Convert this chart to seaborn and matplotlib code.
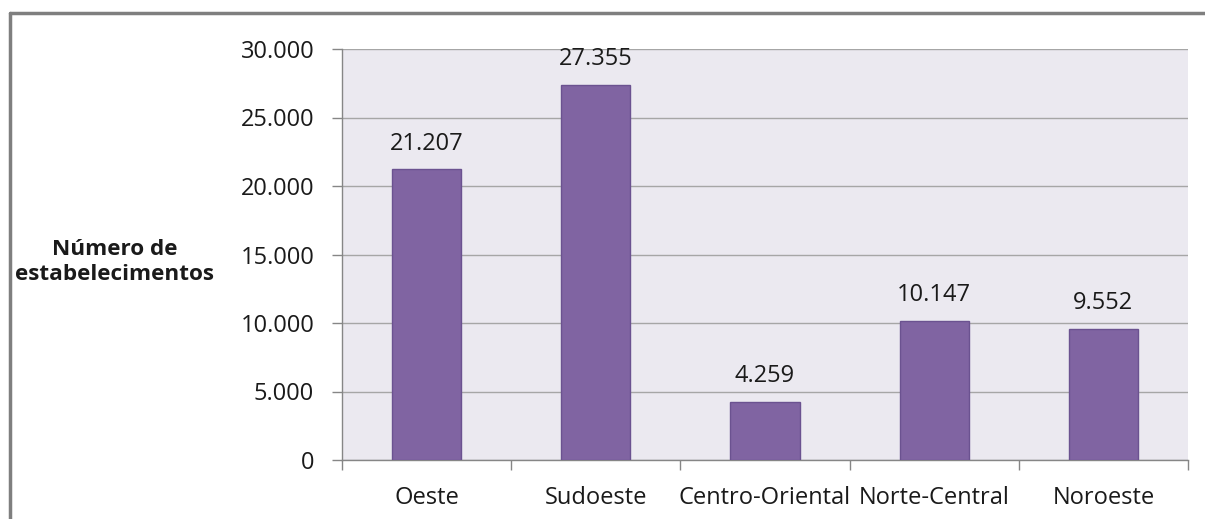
import matplotlib
matplotlib.use('Agg')
import numpy as np
import pandas as pd
import seaborn as sns
import matplotlib.pyplot as plt
from matplotlib.lines import Line2D
from matplotlib.ticker import FuncFormatter, FixedLocator

# data
regioes = ['Oeste', 'Sudoeste', 'Centro-Oriental', 'Norte-Central', 'Noroeste']
estabelecimentos = [21207, 27355, 4259, 10147, 9552]
yticks = [0, 5000, 10000, 15000, 20000, 25000, 30000]

def fmt(v):
    return f'{int(v):,}'.replace(',', '.')

df = pd.DataFrame({'Regiao': regioes, 'Estab': estabelecimentos})

sns.set_style('white')
plt.rcParams['font.family'] = ['Open Sans', 'DejaVu Sans']

fig = plt.figure(figsize=(12.05, 5.19), dpi=100)
ax = fig.add_axes([342/1205, 59/519, 846/1205, 411/519])
ax.set_facecolor('#EBE9F0')

sns.barplot(data=df, x='Regiao', y='Estab', color='#8064A2', width=0.41,
            edgecolor='#6B5290', linewidth=1, saturation=1, ax=ax, zorder=3)

ax.set_xlim(-0.5, len(regioes) - 0.5)
ax.set_ylim(0, 30000)
ax.set_yticks(yticks)
ax.yaxis.set_major_formatter(FuncFormatter(lambda v, p: fmt(v)))
ax.grid(axis='y', color='#A6A6A6', linewidth=1, zorder=0)
ax.set_axisbelow(True)

for s in ['top', 'right']:
    ax.spines[s].set_visible(False)
for s in ['left', 'bottom']:
    ax.spines[s].set_color('#868686')
    ax.spines[s].set_linewidth(1)

ax.tick_params(axis='y', length=7, width=1, color='#868686', pad=13,
               labelsize=17, labelcolor='#1a1a1a', left=True)
ax.tick_params(axis='x', which='major', length=0, pad=19, labelsize=17,
               labelcolor='#1a1a1a')
ax.xaxis.set_minor_locator(FixedLocator(np.arange(-0.5, len(regioes), 1)))
ax.tick_params(axis='x', which='minor', length=7, width=1, color='#868686',
               bottom=True)

for i, v in enumerate(estabelecimentos):
    ax.annotate(fmt(v), (i, v), xytext=(0, 10), textcoords='offset points',
                ha='center', va='bottom', fontsize=17, color='#1a1a1a')

ax.set_xlabel('')
ax.set_ylabel('')
fig.text(115/1205, 1 - 262/519, 'Número de\nestabelecimentos', ha='center',
         va='center', fontsize=16.2, fontweight='bold', linespacing=1.25,
         color='#1a1a1a')

# outer border (left and top)
fig.add_artist(Line2D([10/1205, 10/1205], [0, 1 - 13/519],
                      transform=fig.transFigure, color='#7F7F7F', linewidth=2.5))
fig.add_artist(Line2D([10/1205, 1], [1 - 13/519, 1 - 13/519],
                      transform=fig.transFigure, color='#7F7F7F', linewidth=2.5))

fig.savefig('out.png', dpi=100)
